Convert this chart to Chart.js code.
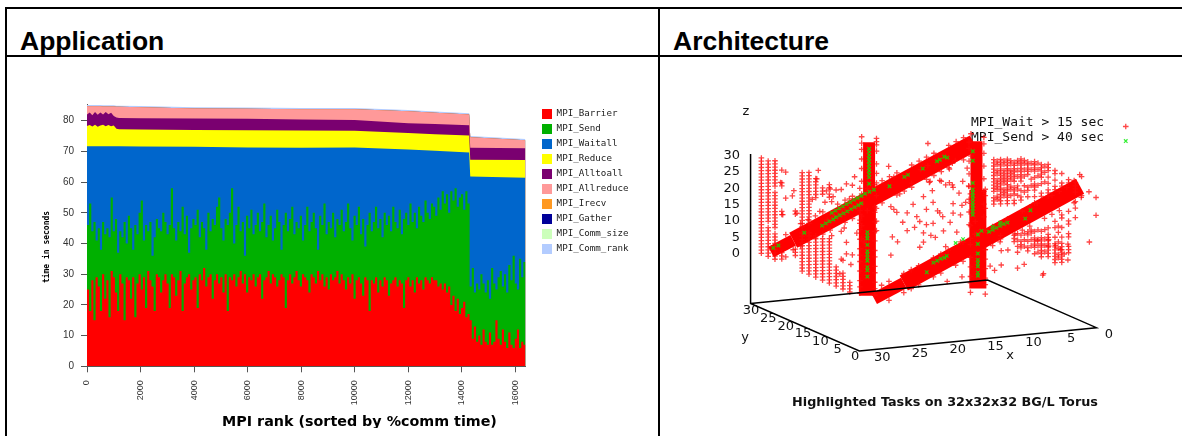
<!DOCTYPE html>
<html>
<head>
<meta charset="utf-8">
<script src="https://cdn.jsdelivr.net/npm/chart.js@4/dist/chart.umd.min.js"></script>
<style>
body { margin: 0; background: #fff; overflow: hidden; }
#pagina { position: relative; width: 1182px; height: 436px; overflow: hidden; }
.linha { position: absolute; background: #000; }
.titulo { position: absolute; top: 26px; font: bold 26.5px "Liberation Sans", sans-serif; color: #000; }
canvas { position: absolute; }
</style>
</head>
<body>
<div id="pagina">
    <div class="linha" style="left:5px;top:7px;width:1177px;height:2px"></div>
    <div class="linha" style="left:5px;top:55px;width:1177px;height:2px"></div>
    <div class="linha" style="left:5px;top:7px;width:2px;height:429px"></div>
    <div class="linha" style="left:658px;top:7px;width:2px;height:429px"></div>
    <div class="titulo" style="left:20px">Application</div>
    <div class="titulo" style="left:673px">Architecture</div>
    <canvas id="grafico1" style="left:8px;top:58px"></canvas>
    <canvas id="grafico2" style="left:660px;top:58px"></canvas>
</div>
<script>
// upper edge of each MPI call in the stack, in seconds, one value per rank step
const barrierTop = [
    14,25,18,28,15,29,26,18,30,22,28,16,31,29,24,18,30,27,15,29,
    28,22,29,16,27,30,25,29,19,31,28,26,18,30,29,24,28,30,27,19,
    30,29,23,28,31,18,27,29,30,25,28,29,19,30,28,32,26,29,30,22,
    28,30,27,29,24,30,18,29,28,30,26,29,31,27,30,24,29,28,30,26,
    29,30,22,28,29,31,27,30,29,26,28,30,29,19,28,30,27,29,31,28,
    26,30,29,28,24,30,29,27,31,28,30,26,29,25,30,28,29,31,27,30,
    28,25,29,27,30,22,28,29,27,23,29,28,18,28,27,29,24,28,26,29,
    28,23,27,28,29,26,28,27,19,28,29,26,28,24,29,27,28,25,29,28,27,29,
    28,28,26,27,25,27,24,26,20,23,18,22,17,19,21,16,17,
    15,9,13,8,10,7,12,8,7,11,7,8,15,9,7,12,8,6,11,7,6,9,12,6,8,7
];
const sendTop = [
    43,46,53,44,47,41,45,38,47,43,45,42,55,44,48,37,44,42,47,40,
    49,45,38,46,43,50,54,41,46,44,47,36,42,48,45,44,50,47,43,46,
    58,45,41,47,44,52,43,49,37,45,48,46,51,42,47,45,38,50,44,48,
    46,52,55,45,41,48,46,50,58,40,46,52,44,47,36,49,45,51,43,46,
    50,44,47,53,42,46,49,41,45,51,47,38,46,50,44,48,52,43,47,45,
    49,41,46,52,44,47,50,45,38,49,46,53,43,47,45,50,42,48,46,51,
    44,47,53,45,41,49,46,52,43,48,39,46,50,44,47,52,45,48,42,50,
    46,49,44,52,47,45,51,43,48,50,46,53,47,50,45,52,49,47,54,50,48,53,
    52,49,55,51,57,53,56,50,57,54,58,52,55,56,51,57,53,
    26,32,24,27,25,30,27,24,28,22,32,27,25,29,31,26,30,24,33,28,36,27,25,35,29,34
];
const rankStep = 16384 / 204;

const bandRanks = [0,100,200,300,400,500,600,700,800,900,1000,1100,1200,2000,4000,6000,8000,10000,12000,13000,14280,14320,16384];
const waitallTop = [71.7,71.7,71.7,71.7,71.7,71.7,71.7,71.7,71.7,71.7,71.7,71.7,71.7,71.6,71.5,71.3,71.2,71.3,70.6,70.2,69.6,61.8,61.4];
const reduceTop = [78.3,78.6,78.1,78.7,78,78.4,78.7,78.2,78.6,78.2,78.4,77.4,77.2,77.1,77,76.9,76.8,76.7,76,75.6,75.2,67.3,67.2];
const alltoallTop = [82,82.7,81.8,82.8,81.9,82.7,82,82.8,82.1,82.6,81.5,81,80.9,80.8,80.7,80.6,80.4,80.2,79.2,78.9,78.5,71.2,71];
const allreduceTop = [84.7,84.7,84.7,84.7,84.7,84.7,84.6,84.6,84.6,84.6,84.6,84.5,84.5,84.4,84,83.9,83.7,83.7,83.1,82.6,82,74.6,73.6];
const commRankTop = [85.1,85.1,85.1,85.1,85.1,85.1,85,85,85,85,85,84.9,84.9,84.8,84.4,84.3,84.1,84.1,83.5,83,82.4,75,74];

const callNames = ['MPI_Barrier','MPI_Send','MPI_Waitall','MPI_Reduce','MPI_Alltoall','MPI_Allreduce','MPI_Irecv','MPI_Gather','MPI_Comm_size','MPI_Comm_rank'];
const callColors = ['#ff0000','#00b000','#0066cc','#ffff00','#7a0070','#ff9999','#ff9922','#000099','#ccffbb','#b3ccff'];
const rankTicks = [0,2000,4000,6000,8000,10000,12000,14000,16000];
const timeTicks = [0,10,20,30,40,50,60,70,80];

// torus tasks: sheet columns are [y, z, z, ...] at one x, scattered ones are [x, z] at one y
const waitSheetLeft = [
    [31, 0,1,2,3,4,5,6,7,8,9,10,11,12,13,14,15,16,17,18,19,20,21,22,23,24,25,26,27,28,29,30],
    [29, 0,1,2,3,4,5,6,7,8,9,11,12,13,14,15,16,17,18,19,20,21,22,23,24,25,26,27,28,29,30],
    [27, 0,1,2,3,4,5,6,7,8,10,11,12,13,14,15,16,17,18,19,20,21,23,24,25,26,27,28,29,30,31],
    [25, 1,2,3,15,16,24,25,29],
    [21, 4,5,6,17,18],
    [19, 0,1,2,3,4,5,6,7,8,9,10,11,12,14,15,16,17,18,19,20,21,22,23,24,25,26,27,28,29,30,31],
    [17, 0,1,2,3,4,5,6,7,8,9,10,11,12,13,16,17,18,19,20,21,22,23,24,25,26,27,28,29,30,31,32],
    [15, 0,1,2,3,4,5,6,7,8,9,10,11,12,13,25,26,27,28,29,30,31],
    [13, 0,1,2,3,4,5,6,7,8,9,10,11,12,13,27,28,29],
    [11, 0,1,2,3,4,5,6,7,8,9,10,11,12,13,14,27,28,30,31],
    [9, 0,1,2,3,4,5,6],
    [7, 0,1,2,3,4,5,9],
    [5, 0,1,2,3]
];
const waitSheetRight = [
    [28, 10,11,12,14,15,16,17,18,19,20,21,22,23,24],
    [27, 12,13,15,16,17,18,20,21,23,24],
    [26, 0,1,11,12,13,14,15,16,17,18,19,20,21,22,23,24,25],
    [25, 14,15,16,18,19,20,21,22,24,25],
    [24, 12,13,14,15,16,17,18,19,20,21,22,23,24,25,26],
    [23, 15,17,18,20,21,22,23,25,26],
    [22, 1,2,3,13,14,16,17,18,20,21,22,23,24,25,26],
    [21, 0,2,4,16,18,19,22,24,26,27],
    [20, 0,1,2,4,15,16,18,21,22,23,24,25,26,27,28],
    [19, 1,3,5,18,20,23,25,27,28],
    [18, 0,1,3,5,6,17,19,20,24,25,26,27,28],
    [17, 2,4,6,7,21,23,26,28],
    [16, 0,2,3,4,5,7,16,18,20,21,22,24,26,27,28,29],
    [15, 1,3,5,8,22,25,27,29],
    [14, 0,1,2,3,4,5,6,8,19,20,23,25,26,27,28,29],
    [13, 2,4,6,9,24,27,29],
    [12, 1,2,3,4,5,6,7,8,10,20,21,22,24,26,28,29,30],
    [10, 0,1,2,3,4,5,6,8,11,13,23,24,26,28,29],
    [9, 2,3,5,7,10,12],
    [8, 1,2,3,4,5,6,7,9,12,15,16,25,26,29],
    [6, 5,6,7,10,11,14,15,18,27,28],
    [4, 17,20,22,25,26,27,28]
];
const waitScatter = [
    [20.4,19.3],[20,18.3],[18.2,16.8],[17.4,19.3],[16,21.4],[16.9,15.3],[19.6,17.3],[15.6,17.3],[14.7,19.3],[13,24.4],
    [12.5,25],[12,23.4],[11.2,21.4],[10.3,18.3],[12,18.3],[13.8,15.8],[16.5,13.7],[18.2,11.2],[20.2,9.7],[20.4,4],
    [14.7,12.7],[16,7.1],[16.5,5.6],[12,15.3],[9.9,23.4],[10.7,25],[13.8,26],[15.1,26],[20,28.5],[20.7,32],[15.4,38],
    [34.6,33.4],[35.3,30.3],[34.6,25.2],[35,20.1],[33.7,25.7],[33.5,27.3],[30.2,32.9],[30.4,30.3],[29.1,26.2],[28.6,26.7],
    [27.8,26.2],[27.1,26.2],[26.4,27.8],[25.6,27.2],[25.3,29.8],[28.2,24.2],[28.4,22.7],[29.3,22.7],[33.1,20.1],[26.7,14],
    [26.4,9.4],[27.1,13],[28.4,12],[26.4,5.8],[25.6,5.3],[27.1,4.3],[27.3,-0.3],[25.8,2.3],
    [15.4,31],[12.1,31],[11.7,31.8],[12.5,29.3],[10.1,29],[15.2,25.7],[13.6,25.7],[12.1,24.2],[10.8,17.5],[14.1,16.5],
    [13.4,14.5],[12.4,12.5],[11,14.5],[9,12],[15.6,12.5],[13.3,10],[11.5,9.2],[14.4,8.2],[9.1,8],[16,10],
    [6.4,-4],[5.5,-2.5],[3.3,-4],[2.4,-3],[7,-2.5],[10.8,-5],[12.8,-6],[-0.1,-7],[-0.2,-6.5],[-3.5,-3],[-3,-1],
    [-6.4,2],[-3.5,2],[-2.5,0.5],[-0.9,2],[0.6,4],[-1.8,2],[-0.9,4],[3.3,1],[4.6,2],[5.5,2],
    [-7.3,15.8],[-7.3,10.2],[-5.3,16.3],[-5.1,23.5],
    [19.2,23],[17.6,26],[16.4,30],[14.8,23],[18.8,14],[17.2,12],[19.5,8],[15,9],[13,5],[11,6],
    [28,18],[30,20],[31,24],[27,20],[29,17],[26,23],[24.6,26],[24,9],[25,12],[24.6,15]
];
// mostly solid stretches of the two diagonals and four stacks: x1,y1,z1,x2,y2,z2
const waitWide = [
    [29,26,6,4.6,26,31],[26,0,4,2.2,0,29],[30,2,0,30,2,31],[16,0,0,16,0,31]
];
const waitNarrow = [
    [32,26,3,29,26,6],[30,0,0,26,0,4],[16,32,0,16,32,31],[1.5,32,0,1.5,32,28]
];
// rough edges of the diagonals, [x, z]
const waitFarEdge = [
    [30,8],[28,11],[27,12],[26,13],[25,14],[23,16],[22,17],[21,18],[19,20],[18,21],[17,22],[16,23],[15,24],[13,26],[12,27],[11,28],[10,29],[8,31],[7,32],[6,33],[5,34],
    [30,1],[29,3],[28,4],[26,6],[25,7],[24,8],[22,10],[21,11],[20,12],[19,13],[18,14],[17,15],[15,17],[14,18],[13,19],[11,21],[10,22],[9,23],[8,24],[6,26],[5,27]
];
const waitNearEdge = [
    [29,4],[28,5],[26,7],[25,8],[24,9],[22,11],[21,12],[20,13],[18,15],[17,16],[16,17],[14,19],[13,20],[12,21],[10,23],[9,24],[8,25],[6,27],[5,28],[4,29],[3,31],[2,32],
    [28,-1],[26,1],[25,2],[24,3],[22,5],[21,6],[19,8],[18,9],[17,10],[15,12],[14,13],[13,14],[11,16],[10,17],[9,18],[7,20],[6,21],[5,22],[3,24],[2,26],[1,27]
];
// rough sides of the stacks, [x, y, z, z, ...]
const waitStackEdge = [
    [15,32,28,30,31,32,24,21,18,14,10,6,3],
    [17,32,29,31,33,26,23,19,15,12,8,5,1],
    [31,2,1,3,5,8,11,13,15,18,21,24,27],
    [29,2,0,2,4,7,9,12,14,17,20,23,26],
    [15,0,-2,1,3,6,9,12,18,25,29,31],
    [17,0,-1,2,4,7,10,14,20,27,30],
    [0.5,32,4,8,12,16,20,24,27,29],
    [2.5,32,2,6,10,14,18,22,26,28]
];
const sendBandFar = [
    [25.1,9.7],[24.6,10.3],[24.1,10.8],[23.6,11.3],[23.2,11.9],[22.7,12.4],[22.2,12.9],[21.7,13.4],[21.2,14],[20.7,14.5],[20.2,15],[19.8,15.5],
    [23.8,13.4],[23.3,14],[22.8,14.6],[22.3,15.1],[21.8,15.7],[21.3,16.2],[20.8,16.8],[20.3,17.3],[19.8,17.8],[19.3,18.4],[18.7,18.9],[18.1,19.4],
    [31.7,4.2],[31,4.8],[9.2,26.8],[8.6,27.6],[9.6,26.4],[8.2,27.2],[14,22.5],[13.5,23],[16,20],[27.5,8],[11.5,24.5]
];
const sendBandNear = [
    [22,9.5],[21.5,10],[21,10.5],[20.5,10.7],[20.2,11.2],[14.5,17.5],[14,18],[13.5,18.5],[13,19],[12.5,19.5],[12,19.8],[14,19],[13,20],
    [9.6,20.5],[8.9,23],[22.9,6.7],[19,15],[18,16],[15.5,18]
];
const sendStackA = [21,22,23,24,25,26,27,28,29,18,20];
const sendStackB = [6,8,9,11,12,13,14,16,18,19,20];
const sendStackC = [5,6,7,8,9,10,11,12,13,15,22,25];
const sendStackD = [4,5,7,8,9,11,14,17];

const zTicks = [0,5,10,15,20,25,30];
const xyTicks = [0,5,10,15,20,25,30];

// camera of the 3D plot, gives the plane coordinates fed to the scatter scales
function projetar(x, y, z) {
    return { x: 1100 - 7.56 * x - 3.47 * y, y: 330 + 0.75 * x - 1.53 * y - 3.27 * (z + 16) };
}

// draws loose texts of a chart, positions in canvas pixels or rotated
const textosPlugin = {
    id: 'textos',
    beforeDatasetsDraw(chart, args, opts) {
        const ctx = chart.ctx;
        opts.itens.forEach(function(t) {
            ctx.save();
            ctx.font = t.font;
            ctx.fillStyle = t.cor || '#000';
            ctx.textAlign = t.align || 'center';
            ctx.textBaseline = 'middle';
            ctx.translate(t.x, t.y);
            if (t.girar) ctx.rotate(-Math.PI / 2);
            ctx.fillText(t.texto, 0, 0);
            ctx.restore();
        });
    }
};

// ---- Application ----
const tops = [barrierTop, sendTop, waitallTop, reduceTop, alltoallTop, allreduceTop, allreduceTop, allreduceTop, allreduceTop, commRankTop];
const datasets1 = callNames.map(function(nome, i) {
    const serie = tops[i];
    const pontos = serie.map(function(v, j) {
        return { x: i < 2 ? j * rankStep : bandRanks[j], y: v };
    });
    return {
        label: nome,
        data: pontos,
        backgroundColor: callColors[i],
        borderColor: callColors[i],
        borderWidth: 0,
        pointRadius: 0,
        fill: 'origin',
        stepped: i < 2 ? 'after' : false
    };
});

const grafico1 = document.getElementById('grafico1');
grafico1.width = 652;
grafico1.height = 370;
new Chart(grafico1.getContext('2d'), {
    type: 'line',
    data: { datasets: datasets1 },
    plugins: [textosPlugin, {
        id: 'legendaPos',
        afterLayout(chart) {
            chart.legend.left = 529;
            chart.legend.top = 46;
            chart.legend.right = 652;
        }
    }],
    options: {
        responsive: false,
        animation: false,
        layout: { padding: { top: 46.1, right: 33 } },
        scales: {
            x: {
                type: 'linear',
                min: 0,
                max: 16384,
                afterFit(s) { s.height = 61.7; },
                afterBuildTicks(s) { s.ticks = rankTicks.map(function(v) { return { value: v }; }); },
                grid: { drawOnChartArea: false, tickLength: 6, color: '#555' },
                border: { color: '#555' },
                ticks: {
                    callback: function(v) { return String(v); },
                    minRotation: 90,
                    maxRotation: 90,
                    padding: 8,
                    color: '#333',
                    font: { family: 'Liberation Sans', size: 9 }
                }
            },
            y: {
                min: 0,
                max: 85.4,
                afterFit(s) { s.width = 79; },
                afterBuildTicks(s) { s.ticks = timeTicks.map(function(v) { return { value: v }; }); },
                grid: { drawOnChartArea: false, tickLength: 6, color: '#555' },
                border: { color: '#555' },
                ticks: {
                    padding: 7,
                    color: '#333',
                    font: { family: 'Liberation Sans', size: 10 }
                }
            }
        },
        plugins: {
            tooltip: { enabled: false },
            legend: {
                position: 'right',
                align: 'start',
                labels: {
                    boxWidth: 10,
                    boxHeight: 10,
                    padding: 5,
                    color: '#222',
                    font: { family: 'DejaVu Sans Mono', size: 9.2 }
                }
            },
            textos: {
                itens: [
                    { texto: 'time in seconds', x: 39, y: 189, girar: true, font: 'bold 8px "DejaVu Sans Mono"' },
                    { texto: 'MPI rank (sorted by %comm time)', x: 351.5, y: 364, font: 'bold 14.3px "DejaVu Sans"' }
                ]
            }
        }
    }
});

// ---- Architecture ----
const redPoints = [];
waitSheetLeft.forEach(function(c) {
    c.slice(1).forEach(function(z) { redPoints.push(projetar(31, c[0], z)); });
});
waitSheetRight.forEach(function(c) {
    c.slice(1).forEach(function(z) { redPoints.push(projetar(1, c[0], z)); });
});
waitScatter.forEach(function(p) { redPoints.push(projetar(p[0], 16, p[1])); });
waitFarEdge.forEach(function(p) { redPoints.push(projetar(p[0], 26, p[1])); });
waitNearEdge.forEach(function(p) { redPoints.push(projetar(p[0], 0, p[1])); });
waitStackEdge.forEach(function(c) {
    c.slice(2).forEach(function(z) { redPoints.push(projetar(c[0], c[1], z)); });
});

const greenPoints = [];
sendBandFar.forEach(function(p) { greenPoints.push(projetar(p[0], 26, p[1])); });
sendBandNear.forEach(function(p) { greenPoints.push(projetar(p[0], 0, p[1])); });
sendStackA.forEach(function(z) { greenPoints.push(projetar(16, 32, z)); });
sendStackB.forEach(function(z) { greenPoints.push(projetar(30, 2, z)); });
sendStackC.forEach(function(z) { greenPoints.push(projetar(2, 32, z)); });
sendStackD.forEach(function(z) { greenPoints.push(projetar(16, 0, z)); });

function trecho(t, largura) {
    return {
        data: [projetar(t[0], t[1], t[2]), projetar(t[3], t[4], t[5])],
        showLine: true,
        borderColor: '#ff0000',
        borderWidth: largura,
        pointRadius: 0,
        order: 3
    };
}

const caixa = [[32,32,31],[32,32,-16],[32,0,-16],[0,0,-16],[0,32,-16],[32,32,-16]];
const datasets2 = [
    { data: caixa.map(function(c) { return projetar(c[0], c[1], c[2]); }), showLine: true, borderColor: '#000', borderWidth: 1.5, pointRadius: 0, order: 0 },
    { data: greenPoints, pointStyle: 'crossRot', pointRadius: 2.5, pointBorderWidth: 1.2, pointBorderColor: 'rgba(0,235,0,0.8)', order: 1 },
    { data: redPoints, pointStyle: 'cross', pointRadius: 2.8, pointBorderWidth: 1.3, pointBorderColor: 'rgba(255,10,10,0.75)', order: 2 }
];
waitWide.forEach(function(t) { datasets2.push(trecho(t, 17)); });
waitNarrow.forEach(function(t) { datasets2.push(trecho(t, 12)); });

// text anchors come from the same camera, shifted to canvas space
const numeros = '13px "DejaVu Sans"';
const itens2 = [];
function rotulo(texto, p, dx, dy, font, align) {
    itens2.push({ texto: texto, x: p.x + dx - 660, y: p.y + dy - 58, font: font, align: align, cor: '#111' });
}
zTicks.forEach(function(v) { rotulo(String(v), projetar(32, 32, v), -7, 1, numeros, 'right'); });
xyTicks.forEach(function(v) {
    rotulo(String(v), projetar(v, 0, -16), 9, 5, numeros);
    rotulo(String(v), projetar(32, v, -16), -3, 3, numeros);
});
itens2.push({ texto: 'z', x: 86, y: 54, font: numeros, cor: '#111' });
itens2.push({ texto: 'y', x: 85, y: 280, font: numeros, cor: '#111' });
itens2.push({ texto: 'x', x: 350, y: 298, font: numeros, cor: '#111' });
itens2.push({ texto: 'MPI_Wait > 15 sec', x: 311, y: 65, align: 'left', font: '13px "DejaVu Sans Mono"', cor: '#111' });
itens2.push({ texto: 'MPI_Send > 40 sec', x: 311, y: 80, align: 'left', font: '13px "DejaVu Sans Mono"', cor: '#111' });
itens2.push({ texto: 'Highlighted Tasks on 32x32x32 BG/L Torus', x: 285, y: 345, font: 'bold 12.8px "DejaVu Sans"', cor: '#111' });
datasets2[1].data.push({ x: 1130, y: 138 });
datasets2[2].data.push({ x: 1130, y: 123 });

const grafico2 = document.getElementById('grafico2');
grafico2.width = 522;
grafico2.height = 378;
new Chart(grafico2.getContext('2d'), {
    type: 'scatter',
    data: { datasets: datasets2 },
    plugins: [textosPlugin],
    options: {
        responsive: false,
        animation: false,
        scales: {
            x: { display: false, min: 660, max: 1182 },
            y: { display: false, min: 58, max: 436, reverse: true }
        },
        plugins: {
            legend: { display: false },
            tooltip: { enabled: false },
            textos: { itens: itens2 }
        }
    }
});
</script>
</body>
</html>
